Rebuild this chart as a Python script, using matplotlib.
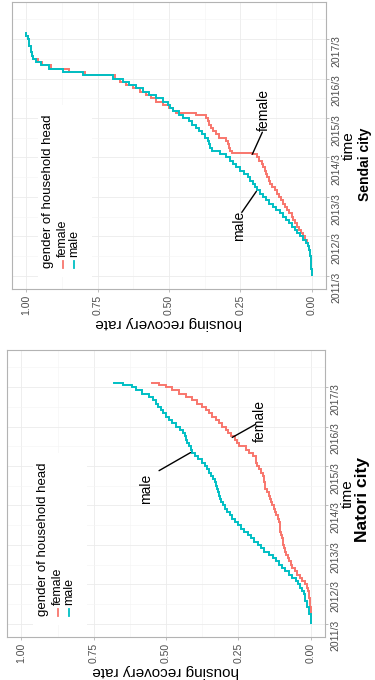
import matplotlib.pyplot as plt
from matplotlib.patches import Rectangle
from matplotlib.transforms import offset_copy

plt.rcParams.update({"font.family": ["Liberation Sans", "DejaVu Sans"]})

FEMALE = "#F8766D"
MALE = "#00BFC4"

# time in months since 2011/3 where each step starts, rate held until the next step
sendai_male_t = [0, 2, 4, 6, 8, 9, 10, 11, 12, 13, 14, 15, 16, 17, 18, 19, 20, 21, 22,
                 23, 24, 25, 26, 27, 28, 29, 30, 31, 32, 33, 34, 35, 36, 37, 38, 39, 40,
                 41, 42, 43, 44, 45, 46, 47, 48, 49, 50, 51, 52, 53, 54, 55, 56, 57, 58,
                 59, 60, 61, 62, 63, 64, 65, 66, 67, 68, 70, 72, 73]
sendai_male_r = [0.0, 0.001, 0.003, 0.005, 0.008, 0.012, 0.02, 0.03, 0.04, 0.05, 0.06,
                 0.07, 0.08, 0.09, 0.10, 0.112, 0.125, 0.137, 0.15, 0.16, 0.17, 0.18,
                 0.19, 0.197, 0.205, 0.215, 0.225, 0.237, 0.25, 0.265, 0.275, 0.288, 0.30,
                 0.32, 0.35, 0.355, 0.36, 0.365, 0.375, 0.385, 0.395, 0.405, 0.42, 0.43,
                 0.45, 0.465, 0.485, 0.495, 0.505, 0.52, 0.545, 0.57, 0.59, 0.615, 0.64,
                 0.66, 0.695, 0.80, 0.87, 0.92, 0.95, 0.965, 0.975, 0.98, 0.985, 0.99,
                 0.995, 1.0]
sendai_female_t = [0, 2, 4, 6, 8, 9, 10, 11, 12, 13, 14, 15, 16, 17, 18, 19, 20, 21, 22,
                   23, 24, 25, 26, 27, 28, 29, 30, 31, 32, 33, 34, 35, 36, 37, 37.5, 38,
                   39, 40, 41, 42, 43, 44, 45, 46, 47, 48, 49, 49.5, 50, 51, 52, 53, 54,
                   55, 56, 57, 58, 59, 60, 61, 62, 63, 64, 65, 66, 67, 68, 70, 72, 73]
sendai_female_r = [0.0, 0.001, 0.003, 0.005, 0.008, 0.012, 0.018, 0.024, 0.03, 0.038,
                   0.045, 0.053, 0.06, 0.065, 0.07, 0.078, 0.085, 0.093, 0.10, 0.108,
                   0.115, 0.123, 0.13, 0.138, 0.145, 0.15, 0.155, 0.16, 0.165, 0.17,
                   0.175, 0.183, 0.19, 0.21, 0.278, 0.285, 0.29, 0.295, 0.30, 0.325,
                   0.335, 0.345, 0.352, 0.36, 0.365, 0.37, 0.405, 0.475, 0.487, 0.50,
                   0.52, 0.545, 0.562, 0.58, 0.60, 0.625, 0.65, 0.67, 0.69, 0.795, 0.85,
                   0.915, 0.945, 0.96, 0.975, 0.98, 0.985, 0.99, 0.995, 1.0]
sendai_end = 74.3

natori_male_t = [0, 3, 5, 7, 9, 10, 11, 12, 13, 14, 15, 16, 17, 18, 19, 20, 21, 22, 23,
                 24, 25, 26, 27, 28, 29, 30, 31, 32, 33, 34, 35, 36, 37, 38, 39, 40, 41,
                 42, 43, 44, 45, 46, 47, 48, 49, 50, 51, 52, 53, 54, 55, 56, 57, 58, 59,
                 60, 61, 62, 63, 64, 65, 66, 67, 68, 69, 70, 71, 72, 72.8, 73.3]
natori_male_r = [0.0, 0.004, 0.012, 0.018, 0.023, 0.028, 0.035, 0.043, 0.052, 0.063,
                 0.075, 0.087, 0.098, 0.108, 0.118, 0.13, 0.145, 0.16, 0.172, 0.182,
                 0.195, 0.205, 0.218, 0.23, 0.242, 0.252, 0.262, 0.27, 0.278, 0.288,
                 0.297, 0.304, 0.31, 0.313, 0.316, 0.319, 0.322, 0.326, 0.331, 0.336,
                 0.343, 0.35, 0.358, 0.365, 0.375, 0.388, 0.40, 0.41, 0.415, 0.42, 0.426,
                 0.43, 0.433, 0.442, 0.452, 0.465, 0.478, 0.49, 0.50, 0.51, 0.518, 0.528,
                 0.536, 0.545, 0.56, 0.582, 0.605, 0.616, 0.65, 0.68]
natori_female_t = [0, 5, 8, 9, 10, 11, 12, 13, 14, 15, 16, 17, 18, 19, 20, 21, 22, 23, 24,
                   25, 26, 27, 28, 30, 31, 32, 33, 34, 35, 36, 37, 38, 39, 40, 41, 42, 43,
                   44, 45, 46, 47, 48, 49, 50, 51, 52, 53, 54, 55, 56, 57, 58, 59, 60, 61,
                   62, 63, 64, 65, 66, 67, 68, 69, 70, 71, 72, 72.8, 73.3]
natori_female_r = [0.0, 0.002, 0.004, 0.006, 0.009, 0.012, 0.02, 0.029, 0.037, 0.046,
                   0.055, 0.063, 0.068, 0.073, 0.078, 0.084, 0.088, 0.091, 0.094, 0.097,
                   0.10, 0.103, 0.104, 0.106, 0.109, 0.114, 0.12, 0.123, 0.127, 0.132,
                   0.138, 0.141, 0.144, 0.15, 0.156, 0.158, 0.16, 0.162, 0.166, 0.172,
                   0.179, 0.184, 0.187, 0.19, 0.20, 0.212, 0.225, 0.248, 0.253, 0.26,
                   0.276, 0.285, 0.294, 0.305, 0.317, 0.328, 0.34, 0.352, 0.363, 0.376,
                   0.392, 0.41, 0.432, 0.455, 0.478, 0.50, 0.524, 0.55]
natori_end = 73.5

rate_ticks = [0.0, 0.25, 0.5, 0.75, 1.0]
rate_labels = ["0.00", "0.25", "0.50", "0.75", "1.00"]
time_ticks = [0, 12, 24, 36, 48, 60, 72]
time_labels = ["2011/3", "2012/3", "2013/3", "2014/3", "2015/3", "2016/3", "2017/3"]

W, H = 375, 680
fig = plt.figure(figsize=(W / 100, H / 100), dpi=100)


def px_axes(left, top, right, bottom):
    return fig.add_axes([left / W, 1 - bottom / H, (right - left) / W, (bottom - top) / H])


def at(ax, dx, dy):
    return offset_copy(ax.transAxes, fig=fig, x=dx, y=dy, units="dots")


def style(ax):
    ax.set_xlim(1.05, -0.05)
    ax.set_ylim(-4, 83.3)
    ax.set_xticks(rate_ticks)
    ax.set_xticklabels(rate_labels)
    ax.set_xticks([0.125, 0.375, 0.625, 0.875], minor=True)
    ax.yaxis.tick_right()
    ax.yaxis.set_label_position("right")
    ax.set_yticks(time_ticks)
    ax.set_yticklabels(time_labels)
    ax.set_yticks([6, 18, 30, 42, 54, 66, 78], minor=True)
    ax.tick_params(which="major", labelsize=7.5, labelcolor="#4D4D4D", color="#B3B3B3",
                   length=2.5, width=0.6, pad=1.5)
    ax.tick_params(axis="x", labelrotation=90)
    ax.tick_params(axis="y", labelrotation=90)
    ax.tick_params(which="minor", length=0)
    ax.grid(which="major", color="#EBEBEB", linewidth=0.6)
    ax.grid(which="minor", color="#F4F4F4", linewidth=0.4)
    ax.set_axisbelow(True)
    for s in ax.spines.values():
        s.set_color("#B3B3B3")
        s.set_linewidth(0.8)
    ax.set_xlabel("housing recovery rate", rotation=180, fontsize=11, labelpad=1)
    ax.set_ylabel("time", rotation=90, fontsize=11, labelpad=0.5)


def legend(ax):
    wpx, hpx = ax.bbox.width, ax.bbox.height
    ax.add_patch(Rectangle((0, 0), 54 / wpx, 172 / hpx, transform=at(ax, 26, 12),
                           facecolor="white", edgecolor="none", zorder=1))
    ax.text(0, 0, "gender of household head", transform=at(ax, 36, 21), rotation=90,
            rotation_mode="anchor", ha="left", va="center", fontsize=9.5, zorder=3)
    for dx, name, col in [(51, "female", FEMALE), (62, "male", MALE)]:
        ax.plot([0, 0], [0, 7 / hpx], transform=at(ax, dx, 21), color=col, lw=1.3,
                zorder=3)
        ax.text(0, 0, name, transform=at(ax, dx, 32), rotation=90,
                rotation_mode="anchor", ha="left", va="center", fontsize=9, zorder=3)


def curve(ax, t, r, end, col):
    ax.stairs(r, t + [end], orientation="horizontal", baseline=None, color=col,
              lw=1.4, zorder=2)


def label(ax, name, xy, xyline, xytext, ha):
    ax.annotate("", xy=xy, xytext=xyline,
                arrowprops=dict(arrowstyle="-", color="black", lw=1.0,
                                shrinkA=0, shrinkB=0))
    ax.text(xytext[0], xytext[1], name, rotation=90, rotation_mode="anchor", ha=ha,
            va="center", fontsize=10)


ax_s = px_axes(12, 2, 326, 289)
ax_n = px_axes(7, 350, 325, 637)

for ax in (ax_s, ax_n):
    style(ax)
    legend(ax)

curve(ax_s, sendai_female_t, sendai_female_r, sendai_end, FEMALE)
curve(ax_s, sendai_male_t, sendai_male_r, sendai_end, MALE)
curve(ax_n, natori_female_t, natori_female_r, natori_end, FEMALE)
curve(ax_n, natori_male_t, natori_male_r, natori_end, MALE)

label(ax_s, "female", (0.208, 37.0), (0.173, 43.7), (0.167, 44.2), "left")
label(ax_s, "male", (0.194, 25.7), (0.245, 19.3), (0.254, 19.8), "right")
label(ax_n, "male", (0.415, 52.1), (0.524, 46.6), (0.568, 45.6), "right")
label(ax_n, "female", (0.271, 56.7), (0.19, 60.7), (0.176, 61.7), "center")

fig.text(365 / W, 1 - 164 / H, "Sendai city", rotation=90, ha="center", va="center",
         fontsize=10, fontweight="bold")
fig.text(362 / W, 1 - 500 / H, "Natori city", rotation=90, ha="center", va="center",
         fontsize=12.5, fontweight="bold")

fig.savefig("out.png", dpi=100)
